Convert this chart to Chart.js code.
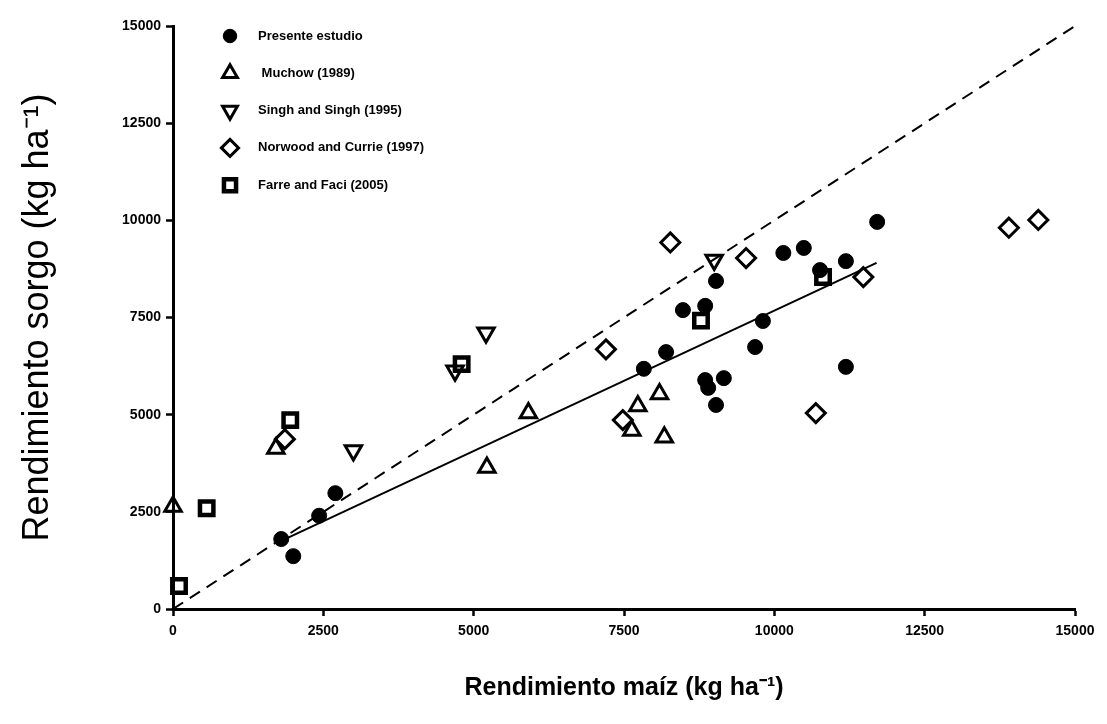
<!DOCTYPE html>
<html>
<head>
<meta charset="utf-8">
<script src="https://cdn.jsdelivr.net/npm/chart.js@4"></script>
<style>
body{margin:0;background:#fff;}
</style>
</head>
<body>
<canvas id="yieldChart" width="1107" height="724"></canvas>
<script>

// data (kg ha-1)
let presenteX = [1800, 2000, 2430, 2700, 7830, 8200, 8480, 8850, 9030, 9680, 9810, 8850, 8900, 9160, 9030, 10150, 10490, 10760, 11190, 11190, 11710];
let presenteY = [1800, 1360, 2400, 2980, 6180, 6610, 7690, 7800, 8440, 6740, 7410, 5890, 5690, 5940, 5250, 9160, 9290, 8720, 8950, 6230, 9960];

let muchowX = [0, 1710, 5220, 5910, 7630, 7730, 8090, 8170];
let muchowY = [2640, 4130, 3640, 5040, 4590, 5220, 5530, 4420];

let singhX = [3000, 4690, 5205, 9000];
let singhY = [4080, 6130, 7110, 8980];

let norwoodX = [1860, 7200, 7480, 8270, 9530, 10690, 11480, 13900, 14390];
let norwoodY = [4370, 6680, 4860, 9430, 9030, 5040, 8540, 9810, 10010];

let farreX = [100, 560, 1950, 4800, 8780, 10810];
let farreY = [590, 2590, 4860, 6300, 7420, 8540];

let fitX = [1800, 11700];
let fitY = [1755, 8905];

let oneToOneX = [0, 15000];
let oneToOneY = [0, 15000];

let axisTicks = [0, 2500, 5000, 7500, 10000, 12500, 15000];

let seriesLabels = ["Presente estudio", " Muchow (1989)", "Singh and Singh (1995)", "Norwood and Currie (1997)", "Farre and Faci (2005)"];

let FONT = "'Liberation Sans', Arial, Helvetica, sans-serif";

function pts(xs, ys){
return xs.map((x,i)=>({x:x, y:ys[i]}));
}

let markerStyles = [
{pointStyle:'circle', pointRadius:7.5, backgroundColor:'#000', borderColor:'#000', borderWidth:1, rotation:0},
{pointStyle:'triangle', pointRadius:9.5, backgroundColor:'transparent', borderColor:'#000', borderWidth:3, rotation:0},
{pointStyle:'triangle', pointRadius:9.5, backgroundColor:'transparent', borderColor:'#000', borderWidth:3, rotation:180},
{pointStyle:'rectRot', pointRadius:9.5, backgroundColor:'transparent', borderColor:'#000', borderWidth:3, rotation:0},
{pointStyle:'rect', pointRadius:9.5, backgroundColor:'transparent', borderColor:'#000', borderWidth:4.5, rotation:0}
];

let seriesData = [
pts(presenteX, presenteY),
pts(muchowX, muchowY),
pts(singhX, singhY),
pts(norwoodX, norwoodY),
pts(farreX, farreY)
];

let datasets = seriesData.map((d,i)=>Object.assign({
label: seriesLabels[i],
data: d,
pointRotation: markerStyles[i].rotation,
pointHoverRadius: markerStyles[i].pointRadius,
clip: false
}, markerStyles[i]));

datasets.push({
label:"fit",
data: pts(fitX, fitY),
showLine:true,
pointRadius:0,
borderColor:'#000',
borderWidth:2,
fill:false
});

datasets.push({
label:"1:1",
data: pts(oneToOneX, oneToOneY),
showLine:true,
pointRadius:0,
borderColor:'#000',
borderWidth:2,
borderDash:[12,8],
fill:false
});

/* legend drawn inside the plot, top left */
let markerLegend = {
id:'markerLegend',
afterDraw(chart){
let ctx = chart.ctx;
let area = chart.chartArea;
let x0 = area.left + 57;
let y0 = area.top + 10;
let rowGap = 37.3;
ctx.save();
seriesLabels.forEach((label,i)=>{
let st = markerStyles[i];
let y = y0 + i*rowGap;
ctx.fillStyle = st.backgroundColor;
ctx.strokeStyle = st.borderColor;
ctx.lineWidth = st.borderWidth;
Chart.helpers.drawPoint(ctx, {pointStyle:st.pointStyle, radius:st.pointRadius*0.9, rotation:st.rotation, borderWidth:st.borderWidth}, x0, y);
ctx.fillStyle = '#000';
ctx.font = "bold 13px " + FONT;
ctx.textAlign = 'left';
ctx.textBaseline = 'middle';
ctx.fillText(label, x0 + 28, y);
});
ctx.restore();
}
};

function axisOpts(titleText, titleFont, titlePadding){
return {
type:'linear',
min:0,
max:15000,
afterBuildTicks: s => { s.ticks = axisTicks.map(v=>({value:v})); },
grid:{
display:true,
drawOnChartArea:false,
drawTicks:true,
tickLength:7,
tickWidth:2.5,
tickColor:'#000'
},
border:{display:true, width:3, color:'#000'},
ticks:{
color:'#000',
font:{family:FONT, size:14, weight:'bold'},
autoSkip:false,
maxRotation:0,
callback: v => String(v)
},
title:{
display:true,
text:titleText,
color:'#000',
font:titleFont,
padding:titlePadding
}
};
}

let xOpts = axisOpts("Rendimiento maíz (kg ha\u207B\u00B9)", {family:FONT, size:25, weight:'bold'}, {top:0, bottom:21});
xOpts.ticks.padding = 7;
xOpts.afterFit = s => { s.height = 115; };

let yOpts = axisOpts("Rendimiento sorgo (kg ha\u207B\u00B9)", {family:FONT, size:36, weight:'normal'}, {top:16, bottom:0});
yOpts.ticks.padding = 5;
yOpts.afterFit = s => { s.width = 173; };

new Chart(document.getElementById("yieldChart"), {
type:'scatter',
data:{datasets:datasets},
options:{
responsive:false,
animation:false,
devicePixelRatio:1,
layout:{padding:{left:0, top:26, right:32, bottom:0}},
plugins:{
legend:{display:false},
tooltip:{enabled:false}
},
scales:{
x:xOpts,
y:yOpts
}
},
plugins:[markerLegend]
});

</script>
</body>
</html>
